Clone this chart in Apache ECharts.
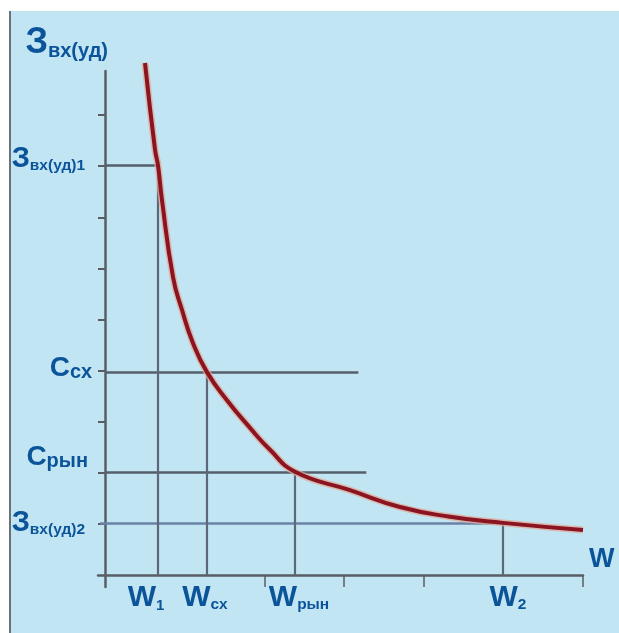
<!DOCTYPE html>
<html><head><meta charset="utf-8">
<script src="https://cdn.jsdelivr.net/npm/echarts@6/dist/echarts.min.js"></script>
<style>
html,body{margin:0;padding:0;background:#fff;width:619px;height:633px;overflow:hidden}
#panel{position:absolute;left:9px;top:11px;width:610px;height:622px;background:#c2e5f3;border-left:2px solid #6b7177;box-sizing:border-box}
#chart{position:absolute;left:0;top:0;width:619px;height:633px}
</style></head><body>
<div id="panel"></div><div id="chart"></div>
<script>
// Curve (W, Звх(уд))
const curveW = [0.502, 0.628, 0.665, 0.715, 0.854, 0.966, 1.104, 1.280, 1.531, 1.820, 2.071, 2.385, 3.075, 3.703, 4.330, 4.996, 6.0];
const curveZ = [10.02, 8.32, 8.02, 7.34, 5.83, 5.19, 4.54, 3.97, 3.42, 2.88, 2.45, 2.02, 1.66, 1.33, 1.14, 1.02, 0.88];

// Marked points on the curve
const wMarks = [0.665, 1.28, 2.385, 4.996];
const wMain = ['W', 'W', 'W', 'W'];
const wSub = ['1', 'сх', 'рын', '2'];
const zMarks = [8.02, 3.97, 2.02, 1.02];
const zMain = ['З', 'С', 'С', 'З'];
const zSub = ['вх(уд)1', 'сх', 'рын', 'вх(уд)2'];
// horizontal guide line ends (W units)
const hLineEnds = [0.665, 3.18, 3.28, 4.996];

// Axis ticks
const xTicks = [2, 3, 4, 6];
const yTicks = [1, 2, 3, 4, 5, 6, 7, 8, 9];

const BLUE = '#0b549a';
const FONT = "'Liberation Sans Narrow','Arial Narrow','Liberation Sans',Arial,sans-serif";
const REG = "'Liberation Sans',Arial,sans-serif";

function findIdx(arr, v) {
  let best = 0, d = 1e9;
  arr.forEach((a, i) => { const dd = Math.abs(a - v); if (dd < d) { d = dd; best = i; } });
  return best;
}

const chart = echarts.init(document.getElementById('chart'), null, {renderer: 'canvas'});

const yLift = [12, 8, 28, 0];
const yRight = [7, 0, 4, 7];
const yRich = {};
zMain.forEach((m, i) => {
  const isZ = m === 'З';
  yRich['b' + i] = {fontFamily: FONT, fontWeight: 'bold', fontSize: isZ ? 29 : 28, color: BLUE, verticalAlign: 'bottom', padding: [0, 0, yLift[i], 0]};
  yRich['s' + i] = {fontFamily: FONT, fontWeight: 'bold', fontSize: isZ ? 15.5 : 20, color: BLUE, verticalAlign: 'bottom', padding: [0, yRight[i], yLift[i], 0]};
});
const xPadL = [0, 0, 8, 10];
const xPadR = [24, 4, 0, 0];
const xRich = {};
wMain.forEach((m, i) => {
  xRich['b' + i] = {fontFamily: REG, fontWeight: 'bold', fontSize: 30, color: BLUE, verticalAlign: 'bottom', padding: [0, 0, 0, xPadL[i]]};
  xRich['s' + i] = {fontFamily: REG, fontWeight: 'bold', fontSize: i === 0 ? 15 : 15.5, color: BLUE, verticalAlign: 'bottom', padding: [0, xPadR[i], 0, 0]};
});

const guideColor = '#555f6b';
const markData = [];
zMarks.forEach((z, i) => {
  markData.push([{coord: [i === 3 ? -0.063 : 0, z]}, {coord: [hLineEnds[i], z], lineStyle: {color: i === 3 ? '#6a82a6' : guideColor, width: 2.5, type: 'solid'}}]);
});
wMarks.forEach((w, i) => {
  markData.push([{coord: [w, 0]}, {coord: [w, zMarks[i]], lineStyle: {color: '#5c6777', width: 2.2, type: 'solid'}}]);
});

const option = {
  animation: false,
  backgroundColor: 'transparent',
  grid: {left: 98, right: 36, top: 71, bottom: 46, containLabel: false, outerBoundsMode: 'none'},
  xAxis: {
    type: 'value', min: -0.088, max: 6,
    axisLine: {onZero: true, lineStyle: {color: '#5a5e63', width: 2.5}},
    axisTick: {show: true, customValues: xTicks, length: 12, lineStyle: {color: '#5a5e63', width: 1.5}},
    splitLine: {show: false},
    axisLabel: {
      customValues: wMarks, margin: -4,
      formatter: v => { const i = findIdx(wMarks, v); return '{b' + i + '|' + wMain[i] + '}{s' + i + '|' + wSub[i] + '}'; },
      rich: xRich
    },
    name: 'W', nameLocation: 'end', nameGap: 6,
    nameTextStyle: {fontFamily: REG, fontWeight: 'bold', fontSize: 27, color: BLUE, verticalAlign: 'bottom', padding: [0, 0, 2, 0]}
  },
  yAxis: {
    type: 'value', min: -0.235, max: 9.863,
    axisLine: {onZero: true, lineStyle: {color: '#5a5e63', width: 2.5}},
    axisTick: {show: true, customValues: yTicks, length: 7, lineStyle: {color: '#5a5e63', width: 2}},
    splitLine: {show: false},
    axisLabel: {
      customValues: zMarks, margin: 6,
      formatter: v => { const i = findIdx(zMarks, v); return '{b' + i + '|' + zMain[i] + '}{s' + i + '|' + zSub[i] + '}'; },
      rich: yRich
    },
    name: '{b|З}{s|вх(уд)}', nameLocation: 'end', nameGap: 10,
    nameTextStyle: {
      align: 'right', verticalAlign: 'bottom', padding: [0, -3, 0, 0],
      rich: {
        b: {fontFamily: FONT, fontWeight: 'bold', fontSize: 36, color: BLUE, verticalAlign: 'bottom'},
        s: {fontFamily: FONT, fontWeight: 'bold', fontSize: 20, color: BLUE, verticalAlign: 'bottom'}
      }
    }
  },
  series: [
    {
      type: 'line', data: curveW.map((w, i) => [w, curveZ[i]]), smooth: true, symbol: 'none', clip: false,
      lineStyle: {color: 'rgba(226,170,150,0.75)', width: 7}, z: 3, silent: true
    },
    {
      type: 'line', data: curveW.map((w, i) => [w, curveZ[i]]), smooth: true, symbol: 'none', clip: false,
      lineStyle: {color: '#8a1422', width: 4}, z: 4,
      markLine: {silent: true, symbol: ['none', 'none'], label: {show: false}, z: 2, data: markData}
    }
  ]
};
chart.setOption(option);
</script>
</body></html>
